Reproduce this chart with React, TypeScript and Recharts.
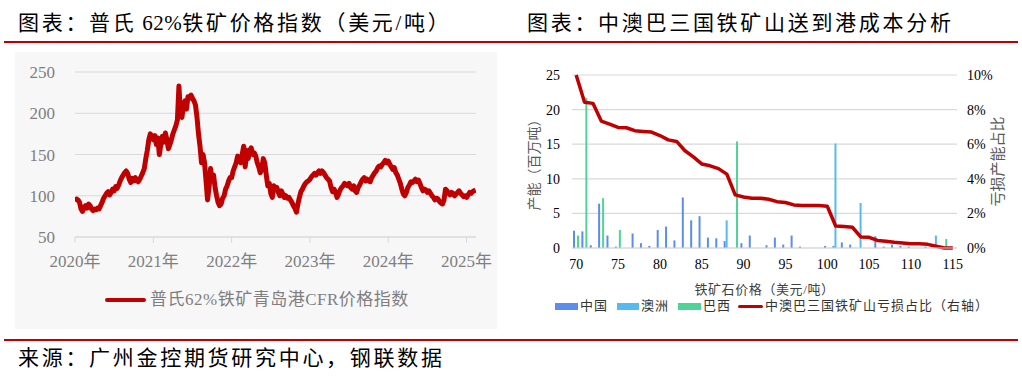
import React from 'react';
import { LineChart, Line, XAxis, YAxis, CartesianGrid, ComposedChart, Bar } from 'recharts';

const FONT = "'Liberation Serif', 'Noto Sans CJK SC', serif";

// ---------- Left chart: Platts 62% index (weekly readings) ----------
const yearTicks = [2020, 2021, 2022, 2023, 2024, 2025];
const price2020 = [93, 96, 95, 92, 84, 81, 86, 88, 85, 90, 88, 84, 82, 84, 83, 85, 84, 88, 92, 97, 100, 103, 105, 101, 104, 108, 106, 111, 109, 113, 118, 122, 125, 128, 130, 127, 120, 116, 121, 118, 122, 119, 117, 120, 124, 128, 133, 145, 155, 168, 175, 172];
const price2021 = [168, 173, 162, 170, 150, 162, 172, 165, 176, 168, 157, 162, 168, 175, 180, 185, 192, 233, 200, 195, 210, 215, 205, 220, 218, 222, 218, 215, 210, 195, 175, 160, 140, 150, 140, 118, 95, 110, 133, 120, 125, 110, 100, 92, 88, 90, 97, 100, 108, 112, 118, 122];
const price2022 = [122, 130, 135, 140, 148, 145, 140, 150, 160, 135, 155, 145, 155, 158, 150, 152, 148, 140, 135, 128, 132, 145, 140, 125, 112, 115, 103, 98, 112, 108, 110, 104, 100, 106, 102, 98, 100, 97, 98, 95, 92, 88, 85, 80, 90, 98, 105, 108, 112, 115, 117, 118];
const price2023 = [120, 123, 125, 127, 125, 128, 130, 127, 130, 128, 125, 122, 120, 118, 110, 105, 108, 104, 98, 102, 107, 110, 112, 115, 113, 112, 115, 110, 108, 112, 106, 104, 110, 113, 117, 120, 122, 118, 120, 118, 117, 122, 125, 128, 130, 134, 136, 135, 138, 140, 143, 140];
const price2024 = [142, 138, 135, 132, 134, 128, 125, 120, 115, 108, 102, 100, 104, 110, 113, 117, 116, 118, 120, 117, 119, 115, 110, 106, 108, 107, 104, 106, 103, 100, 98, 95, 97, 96, 93, 91, 90, 95, 108, 106, 103, 101, 104, 103, 100, 102, 104, 106, 103, 101, 99, 100];
const price2025 = [98, 101, 104, 103, 105, 106, 107];

const priceYears: [number, number[]][] = [
  [2020, price2020], [2021, price2021], [2022, price2022],
  [2023, price2023], [2024, price2024], [2025, price2025],
];
const priceData: { t: number; v: number }[] = [];
priceYears.forEach(([y, arr]) => arr.forEach((v, i) => priceData.push({ t: y + i / 52, v })));

// ---------- Right chart: cost curve ----------
const costPrices = [70, 71, 72, 73, 74, 75, 76, 77, 78, 79, 80, 81, 82, 83, 84, 85, 86, 87, 88, 89, 90, 91, 92, 93, 94, 95, 96, 97, 98, 99, 100, 101, 102, 103, 104, 105, 106, 107, 108, 109, 110, 111, 112, 113, 114, 115];
const chinaCap = [2.5, 2.4, 0.4, 6.4, 1.8, 0.2, null, 2.1, 0.7, 0.3, 2.6, 3.1, 1.1, 7.3, 4.0, 4.6, 1.5, 1.4, 1.0, null, 0.7, 1.8, null, 0.4, 1.5, 0.5, 1.8, 0.2, null, null, 0.3, 0.3, 0.8, 0.5, null, null, 1.7, 0.2, 0.5, 0.3, 0.2, null, 0.2, null, null, null];
const ausCap = [null, null, null, null, null, null, null, null, null, null, null, null, null, null, null, null, null, null, 4.0, null, null, null, null, null, null, null, null, null, null, null, null, 15.1, null, null, 6.5, null, null, null, null, null, null, null, null, 1.8, null, null];
const brazilCap = [1.8, 21.7, null, 7.2, null, 2.6, null, null, null, null, null, null, null, null, null, null, null, null, null, 15.4, null, null, null, null, null, null, null, null, null, null, null, null, null, null, null, null, null, null, null, null, null, null, null, null, 1.3, null];
const lossShare = [0.1, 0.0842, 0.0836, 0.0734, 0.0716, 0.0697, 0.0695, 0.0678, 0.0674, 0.067, 0.065, 0.0625, 0.0616, 0.0562, 0.0527, 0.0486, 0.0475, 0.0459, 0.0427, 0.0307, 0.0295, 0.0288, 0.0288, 0.0282, 0.0268, 0.0263, 0.0249, 0.0245, 0.0245, 0.0245, 0.0241, 0.0127, 0.0124, 0.012, 0.0064, 0.0062, 0.0044, 0.0039, 0.0033, 0.0029, 0.0025, 0.0025, 0.0021, 0.001, 0, 0];
const capTicks = [0, 5, 10, 15, 20, 25];
const shareTicks = [0, 0.02, 0.04, 0.06, 0.08, 0.1];

const costData = costPrices.map((p, i) => ({
  p, cn: chinaCap[i], au: ausCap[i], br: brazilCap[i], loss: lossShare[i],
}));

const RED = '#C00000';
const CN = '#5B8EEA';
const AU = '#55BAF0';
const BR = '#4ED497';

const abs = (s: React.CSSProperties): React.CSSProperties => ({ position: 'absolute', whiteSpace: 'nowrap', ...s });
const legendText: React.CSSProperties = { fontSize: 13, lineHeight: '16px', color: '#333', letterSpacing: 1 };

export default function App() {
  return (
    <div style={{ position: 'absolute', left: 0, top: 0, width: 1022, height: 377, background: '#fff', overflow: 'hidden', fontFamily: FONT }}>
      {/* Titles */}
      <div style={abs({ left: 18, top: 13, fontSize: 21, lineHeight: '21px', letterSpacing: 2.7, color: '#000' })}>
        图表：普氏<span style={{ letterSpacing: 0.5 }}> 62%</span>铁矿价格指数（美元/吨）
      </div>
      <div style={abs({ left: 527, top: 13, fontSize: 21, lineHeight: '21px', letterSpacing: 2.7, color: '#000' })}>
        图表：中澳巴三国铁矿山送到港成本分析
      </div>
      <div style={abs({ left: 4, top: 41, width: 1014, height: 1.5, background: RED })} />

      {/* Left chart */}
      <div style={abs({ left: 15, top: 52, width: 482, height: 277, background: '#f7f7f7' })}>
        <LineChart width={482} height={277} data={priceData} margin={{ top: 20, right: 21, bottom: 62, left: 0 }}>
          <CartesianGrid vertical={false} stroke="#d9d9d9" strokeWidth={1.2} />
          <XAxis
            dataKey="t" type="number" domain={[2020, 2025.12]} allowDataOverflow ticks={yearTicks}
            tickFormatter={(v: number) => `${v}年`} height={30}
            axisLine={{ stroke: '#d9d9d9' }} tickLine={{ stroke: '#d9d9d9' }} tickSize={6} tickMargin={12}
            tick={{ fontSize: 17, fill: '#7f7f7f', fontFamily: FONT }}
          />
          <YAxis
            domain={[50, 250]} ticks={[50, 100, 150, 200, 250]} width={60}
            axisLine={false} tickLine={false} tickMargin={14}
            tick={{ fontSize: 17, fill: '#7f7f7f', fontFamily: FONT }}
          />
          <Line dataKey="v" stroke={RED} strokeWidth={5} strokeLinejoin="round" dot={false} activeDot={false} type="linear" isAnimationActive={false} />
        </LineChart>
        <div style={abs({ left: 90, top: 246, width: 41, height: 4, background: RED, borderRadius: 2 })} />
        <div style={abs({ left: 135, top: 238, fontSize: 17, lineHeight: '20px', color: '#7f7f7f', letterSpacing: 0.5 })}>
          普氏62%铁矿青岛港CFR价格指数
        </div>
      </div>

      {/* Right chart */}
      <div style={abs({ left: 515, top: 52, width: 503, height: 280 })}>
        <ComposedChart width={503} height={280} data={costData} barGap={0} margin={{ top: 23, right: 0, bottom: 54, left: 0 }}>
          <CartesianGrid vertical={false} stroke="#d9d9d9" strokeWidth={1.2} yAxisId="l" />
          <XAxis
            dataKey="p" interval={4} height={30}
            axisLine={{ stroke: '#d9d9d9' }} tickLine={false} tickMargin={5}
            tick={{ fontSize: 14, fill: '#000', fontFamily: FONT }}
            label={{ value: '铁矿石价格（美元/吨）', position: 'bottom', offset: 7, fontSize: 13, fill: '#404040', fontFamily: FONT, letterSpacing: 0.6 }}
          />
          <YAxis
            yAxisId="l" domain={[0, 25]} ticks={capTicks} width={57}
            axisLine={false} tickLine={false} tickMargin={6}
            tick={{ fontSize: 14, fill: '#000', fontFamily: FONT }}
            label={{ value: '产能（百万吨）', angle: -90, position: 'insideLeft', offset: 19, textAnchor: 'middle', fontSize: 14, fill: '#595959', fontFamily: FONT }}
          />
          <YAxis
            yAxisId="r" orientation="right" domain={[0, 0.1]} ticks={shareTicks} width={61}
            axisLine={false} tickLine={false} tickMargin={4}
            tickFormatter={(v: number) => `${Math.round(v * 100)}%`}
            tick={{ fontSize: 14, fill: '#000', fontFamily: FONT }}
            label={{ value: '亏损产能占比', angle: -90, position: 'insideRight', offset: 20, textAnchor: 'middle', fontSize: 15, fill: '#595959', fontFamily: FONT }}
          />
          <Bar yAxisId="l" dataKey="cn" fill={CN} barSize={2} isAnimationActive={false} />
          <Bar yAxisId="l" dataKey="au" fill={AU} barSize={2} isAnimationActive={false} />
          <Bar yAxisId="l" dataKey="br" fill={BR} barSize={2} isAnimationActive={false} />
          <Line yAxisId="r" dataKey="loss" stroke={RED} strokeWidth={3.5} strokeLinejoin="round" dot={false} activeDot={false} type="linear" isAnimationActive={false} />
        </ComposedChart>
        <div style={abs({ left: 40, top: 251, width: 23, height: 7, background: CN })} />
        <div style={abs({ left: 65, top: 246, ...legendText })}>中国</div>
        <div style={abs({ left: 102, top: 251, width: 22, height: 7, background: AU })} />
        <div style={abs({ left: 126, top: 246, ...legendText })}>澳洲</div>
        <div style={abs({ left: 163, top: 251, width: 23, height: 7, background: BR })} />
        <div style={abs({ left: 188, top: 246, ...legendText })}>巴西</div>
        <div style={abs({ left: 223, top: 253, width: 25, height: 3, background: RED, borderRadius: 1.5 })} />
        <div style={abs({ left: 250, top: 246, ...legendText })}>中澳巴三国铁矿山亏损占比（右轴）</div>
      </div>

      {/* Footer */}
      <div style={abs({ left: 4, top: 339, width: 1014, height: 1.5, background: RED })} />
      <div style={abs({ left: 18, top: 348, fontSize: 21, lineHeight: '21px', letterSpacing: 2.7, color: '#000' })}>
        来源：广州金控期货研究中心，钢联数据
      </div>
    </div>
  );
}
